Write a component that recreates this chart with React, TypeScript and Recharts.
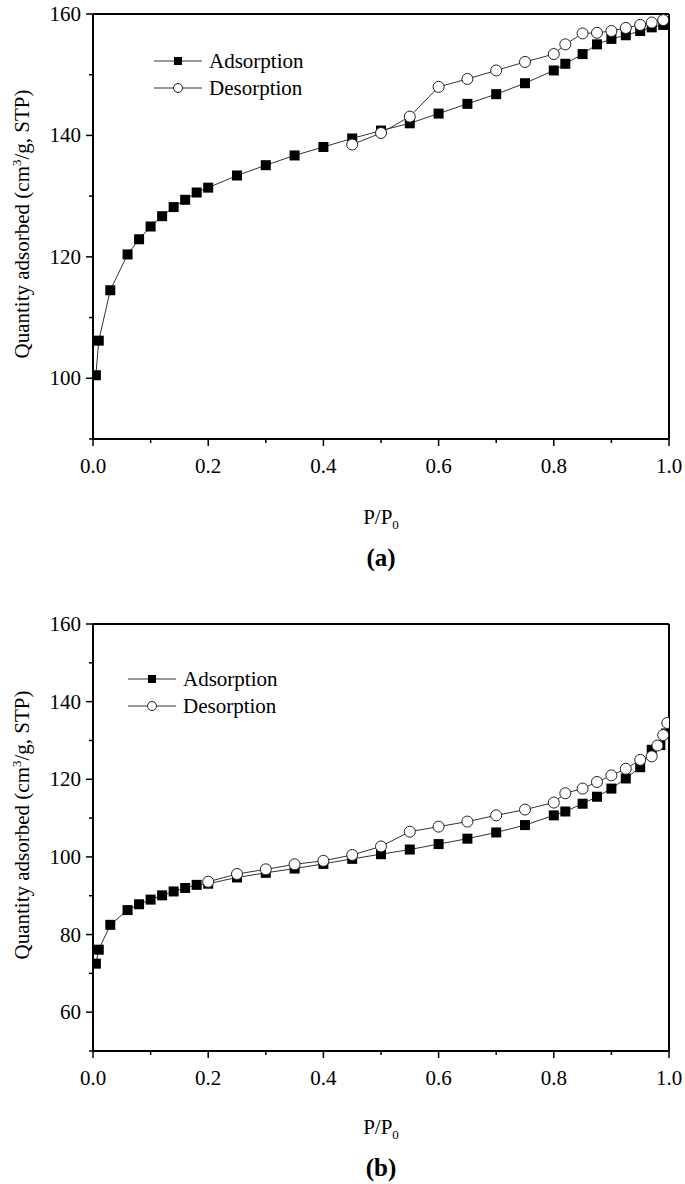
import React from 'react';
import { ScatterChart, Scatter, XAxis, YAxis, ReferenceLine } from 'recharts';

// ---- Panel (a) ----
const pressureAdsA = [0.005, 0.01, 0.03, 0.06, 0.08, 0.1, 0.12, 0.14, 0.16, 0.18, 0.2, 0.25, 0.3, 0.35, 0.4, 0.45, 0.5, 0.55, 0.6, 0.65, 0.7, 0.75, 0.8, 0.82, 0.85, 0.875, 0.9, 0.925, 0.95, 0.97, 0.99];
const adsorptionA = [100.5, 106.2, 114.5, 120.4, 122.9, 125.0, 126.7, 128.2, 129.4, 130.6, 131.4, 133.4, 135.1, 136.7, 138.1, 139.5, 140.8, 142.0, 143.6, 145.2, 146.8, 148.6, 150.7, 151.8, 153.4, 155.0, 155.9, 156.5, 157.2, 157.8, 158.2];
const pressureDesA = [0.45, 0.5, 0.55, 0.6, 0.65, 0.7, 0.75, 0.8, 0.82, 0.85, 0.875, 0.9, 0.925, 0.95, 0.97, 0.99];
const desorptionA = [138.5, 140.4, 143.1, 148.0, 149.3, 150.7, 152.1, 153.4, 155.0, 156.8, 156.9, 157.2, 157.7, 158.2, 158.6, 159.0];

// ---- Panel (b) ----
const pressureAdsB = [0.005, 0.01, 0.03, 0.06, 0.08, 0.1, 0.12, 0.14, 0.16, 0.18, 0.2, 0.25, 0.3, 0.35, 0.4, 0.45, 0.5, 0.55, 0.6, 0.65, 0.7, 0.75, 0.8, 0.82, 0.85, 0.875, 0.9, 0.925, 0.95, 0.97, 0.985, 0.995];
const adsorptionB = [72.5, 76.1, 82.5, 86.3, 87.8, 89.0, 90.1, 91.1, 92.0, 92.8, 93.1, 94.7, 95.9, 97.0, 98.2, 99.5, 100.7, 101.9, 103.3, 104.7, 106.3, 108.2, 110.7, 111.7, 113.7, 115.5, 117.6, 120.2, 123.1, 127.6, 128.8, 131.8];
const pressureDesB = [0.2, 0.25, 0.3, 0.35, 0.4, 0.45, 0.5, 0.55, 0.6, 0.65, 0.7, 0.75, 0.8, 0.82, 0.85, 0.875, 0.9, 0.925, 0.95, 0.97, 0.98, 0.99, 0.997];
const desorptionB = [93.6, 95.6, 96.8, 98.1, 99.0, 100.5, 102.7, 106.5, 107.8, 109.1, 110.7, 112.2, 114.0, 116.4, 117.6, 119.3, 121.0, 122.7, 125.0, 125.9, 128.7, 131.4, 134.5];

// ---- Axes ----
const xTicks = [0, 0.1, 0.2, 0.3, 0.4, 0.5, 0.6, 0.7, 0.8, 0.9, 1.0];
const yTicksA = [90, 100, 110, 120, 130, 140, 150, 160];
const yTicksB = [50, 60, 70, 80, 90, 100, 110, 120, 130, 140, 150, 160];
const seriesNames = ['Adsorption', 'Desorption'];
const panelLabels = ['(a)', '(b)'];

const FONT = '"Liberation Serif", "Times New Roman", serif';

const toPoints = (xs: number[], ys: number[]) => xs.map((x, i) => ({ x, y: ys[i] }));

const XTick = (props: any) => {
  const { x, y, payload } = props;
  const v = payload.value as number;
  const major = Math.round(v * 10) % 2 === 0;
  return (
    <g>
      <line x1={x} x2={x} y1={y} y2={y + (major ? 7 : 4)} stroke="#000" strokeWidth={1.5} />
      {major && (
        <text x={x} y={y + 34} textAnchor="middle" fontSize={21} fontFamily={FONT} fill="#000">
          {v.toFixed(1)}
        </text>
      )}
    </g>
  );
};

const YTick = (props: any) => {
  const { x, y, payload } = props;
  const v = payload.value as number;
  const major = v % 20 === 0;
  return (
    <g>
      <line x1={x - (major ? 7 : 4)} x2={x} y1={y} y2={y} stroke="#000" strokeWidth={1.5} />
      {major && (
        <text x={x - 12} y={y + 7} textAnchor="end" fontSize={21} fontFamily={FONT} fill="#000">
          {v}
        </text>
      )}
    </g>
  );
};

const SquareShape = (props: any) => {
  const { cx, cy } = props;
  if (cx == null || cy == null) return null;
  return <rect x={cx - 5} y={cy - 5} width={10} height={10} fill="#000" />;
};

const CircleShape = (props: any) => {
  const { cx, cy } = props;
  if (cx == null || cy == null) return null;
  return <circle cx={cx} cy={cy} r={5.5} fill="#fff" stroke="#222" strokeWidth={1} />;
};

const lineStyle = { stroke: '#333', strokeWidth: 1 };

type PanelProps = {
  top: number;
  height: number;
  yDomain: [number, number];
  yTicks: number[];
  ads: { x: number; y: number }[];
  des: { x: number; y: number }[];
  bottomMargin: number;
};

const Panel = ({ top, height, yDomain, yTicks, ads, des, bottomMargin }: PanelProps) => (
  <div style={{ position: 'absolute', left: 0, top }}>
    <ScatterChart width={685} height={height} margin={{ top: 14, right: 16, bottom: bottomMargin, left: 0 }}>
      <XAxis
        type="number"
        dataKey="x"
        domain={[0, 1]}
        ticks={xTicks}
        interval={0}
        tick={<XTick />}
        tickLine={false}
        tickSize={0}
        tickMargin={0}
        height={40}
        axisLine={{ stroke: '#000', strokeWidth: 2 }}
        allowDataOverflow
      />
      <YAxis
        type="number"
        dataKey="y"
        domain={yDomain}
        ticks={yTicks}
        interval={0}
        tick={<YTick />}
        tickLine={false}
        tickSize={0}
        tickMargin={0}
        width={93}
        axisLine={{ stroke: '#000', strokeWidth: 2 }}
        allowDataOverflow
      />
      <ReferenceLine y={yDomain[1]} stroke="#000" strokeWidth={2} />
      <ReferenceLine x={1} stroke="#000" strokeWidth={2} />
      <Scatter
        name={seriesNames[0]}
        data={ads}
        line={lineStyle}
        lineType="joint"
        shape={<SquareShape />}
        isAnimationActive={false}
      />
      <Scatter
        name={seriesNames[1]}
        data={des}
        line={lineStyle}
        lineType="joint"
        shape={<CircleShape />}
        isAnimationActive={false}
      />
    </ScatterChart>
  </div>
);

const LegendBox = ({ left, top }: { left: number; top: number }) => (
  <div style={{ position: 'absolute', left, top, width: 200, height: 60 }}>
    <svg width={50} height={60} style={{ position: 'absolute', left: 0, top: 0 }}>
      <line x1={0} x2={48} y1={14} y2={14} stroke="#333" strokeWidth={1} />
      <rect x={20} y={10} width={8} height={8} fill="#000" />
      <line x1={0} x2={48} y1={41} y2={41} stroke="#333" strokeWidth={1} />
      <circle cx={24} cy={41} r={4.5} fill="#fff" stroke="#222" strokeWidth={1} />
    </svg>
    <div style={{ position: 'absolute', left: 55, top: 1, fontFamily: FONT, fontSize: 21, lineHeight: '26px', color: '#000', whiteSpace: 'nowrap' }}>
      {seriesNames[0]}
    </div>
    <div style={{ position: 'absolute', left: 55, top: 28, fontFamily: FONT, fontSize: 21, lineHeight: '26px', color: '#000', whiteSpace: 'nowrap' }}>
      {seriesNames[1]}
    </div>
  </div>
);

const YTitle = ({ cx, cy }: { cx: number; cy: number }) => (
  <div
    style={{
      position: 'absolute',
      left: cx - 200,
      top: cy - 13,
      width: 400,
      height: 26,
      lineHeight: '26px',
      textAlign: 'center',
      transform: 'rotate(-90deg)',
      transformOrigin: 'center center',
      fontFamily: FONT,
      fontSize: 21,
      color: '#000',
      whiteSpace: 'nowrap',
    }}
  >
    Quantity adsorbed (cm<span style={{ fontSize: 13, verticalAlign: 'super', lineHeight: 0 }}>3</span>/g, STP)
  </div>
);

const XTitle = ({ cx, cy }: { cx: number; cy: number }) => (
  <div
    style={{
      position: 'absolute',
      left: cx - 100,
      top: cy - 13,
      width: 200,
      height: 26,
      lineHeight: '26px',
      textAlign: 'center',
      fontFamily: FONT,
      fontSize: 21,
      color: '#000',
      whiteSpace: 'nowrap',
    }}
  >
    P/P<span style={{ fontSize: 13, verticalAlign: 'sub', lineHeight: 0 }}>0</span>
  </div>
);

const PanelLabel = ({ cx, cy, text }: { cx: number; cy: number; text: string }) => (
  <div
    style={{
      position: 'absolute',
      left: cx - 50,
      top: cy - 15,
      width: 100,
      height: 30,
      lineHeight: '30px',
      textAlign: 'center',
      fontFamily: FONT,
      fontSize: 25,
      fontWeight: 'bold',
      color: '#000',
    }}
  >
    {text}
  </div>
);

export default function App() {
  return (
    <div style={{ position: 'absolute', left: 0, top: 0, width: 685, height: 1184, background: '#fff', overflow: 'hidden' }}>
      <Panel
        top={0}
        height={600}
        yDomain={[90, 160]}
        yTicks={yTicksA}
        ads={toPoints(pressureAdsA, adsorptionA)}
        des={toPoints(pressureDesA, desorptionA)}
        bottomMargin={121}
      />
      <Panel
        top={610}
        height={574}
        yDomain={[50, 160]}
        yTicks={yTicksB}
        ads={toPoints(pressureAdsB, adsorptionB)}
        des={toPoints(pressureDesB, desorptionB)}
        bottomMargin={93}
      />
      <LegendBox left={154} top={47} />
      <LegendBox left={128} top={665} />
      <YTitle cx={22} cy={224} />
      <YTitle cx={22} cy={825} />
      <XTitle cx={381} cy={517} />
      <XTitle cx={381} cy={1127} />
      <PanelLabel cx={381} cy={558} text={panelLabels[0]} />
      <PanelLabel cx={381} cy={1168} text={panelLabels[1]} />
    </div>
  );
}
